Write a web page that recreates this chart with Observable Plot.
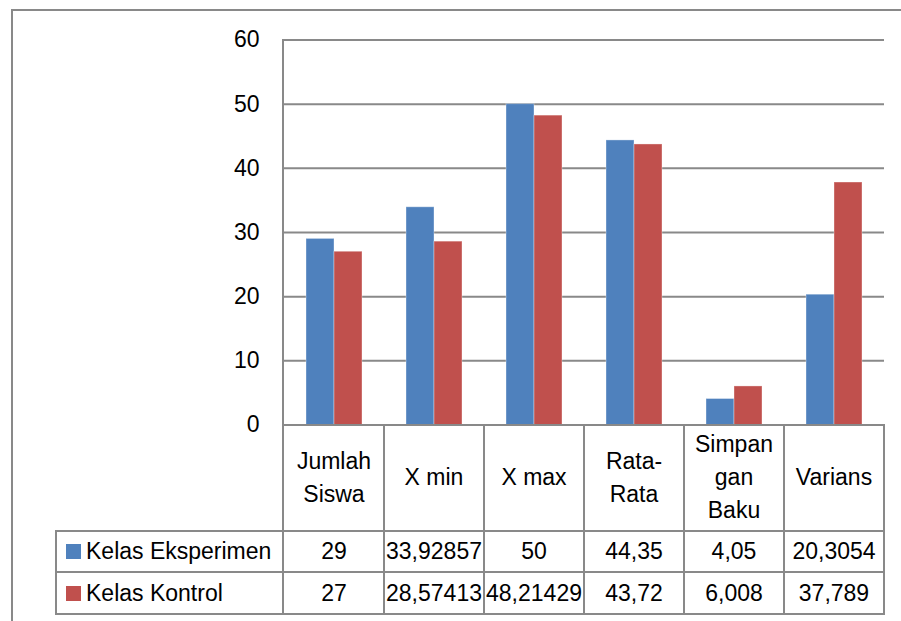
<!DOCTYPE html>
<html>
<head>
<meta charset="utf-8">
<script src="https://cdn.jsdelivr.net/npm/d3@7"></script>
<script src="https://cdn.jsdelivr.net/npm/@observablehq/plot@0.6"></script>
<style>
  html, body { margin: 0; padding: 0; background: #fff; }
  #wrap { position: relative; width: 901px; height: 621px; overflow: hidden; background: #fff;
          font-family: "Liberation Sans", Arial, sans-serif; color: #000; }
  #wrap svg { position: absolute; left: 0; top: 0; }
  .ln { position: absolute; background: #898989; }
  .cell { position: absolute; display: flex; align-items: center; justify-content: center;
          font-size: 23px; white-space: pre; text-align: center; line-height: 33px; }
  .leg { position: absolute; display: flex; align-items: center; font-size: 23px; white-space: pre; }
  .sw { display: inline-block; flex-shrink: 0; width: 15px; height: 15px; margin-right: 5px; }
</style>
</head>
<body>
<div id="wrap"></div>
<script>
// ---- data ----
const categories = ["Jumlah Siswa", "X min", "X max", "Rata-Rata", "Simpangan Baku", "Varians"];
const headerLabels = ["Jumlah\nSiswa", "X min", "X max", "Rata-\nRata", "Simpan\ngan\nBaku", "Varians"];
const seriesNames = ["Kelas Eksperimen", "Kelas Kontrol"];
const eksperimen = [29, 33.92857, 50, 44.35, 4.05, 20.3054];
const kontrol = [27, 28.57413, 48.21429, 43.72, 6.008, 37.789];
const yTicks = [0, 10, 20, 30, 40, 50, 60];
const seriesColors = ["#4F81BD", "#C0504D"];

const seriesValues = [eksperimen, kontrol];
const data = categories.flatMap((c, i) =>
  seriesNames.map((s, j) => ({ cat: c, series: s, value: seriesValues[j][i] })));

const FONT = '"Liberation Sans", Arial, sans-serif';
const W = 901, H = 427;
const mL = 283, mR = 16, mT = 39.5, mB = 2.5;

const chart = Plot.plot({
  width: W, height: H,
  marginLeft: mL, marginRight: mR, marginTop: mT, marginBottom: mB,
  style: { fontFamily: FONT, fontSize: "23px", color: "#000", background: "transparent", overflow: "visible" },
  fx: { domain: categories, padding: 0, axis: null, label: null },
  x: { domain: seriesNames, paddingInner: 0, paddingOuter: 0.75, axis: null, label: null },
  y: { domain: [0, 60], label: null },
  color: { domain: seriesNames, range: seriesColors },
  marks: [
    Plot.ruleY(yTicks.slice(1), { stroke: "#898989", strokeWidth: 2 }),
    Plot.barY(data, { fx: "cat", x: "series", y: "value", fill: "series", stroke: "#ffffff", strokeOpacity: 0.35, strokeWidth: 1 }),
    Plot.axisY(yTicks, { tickSize: 0, tickPadding: 25, fontSize: 23, fill: "#000", label: null })
  ]
});

const wrap = document.getElementById("wrap");
wrap.appendChild(chart);

// ---- data table (built from the same arrays, aligned to the fx scale) ----
const fxs = chart.scale("fx");
const bw = fxs.bandwidth || ((W - mL - mR) / categories.length);
const colStarts = categories.map((c, i) => (fxs.apply ? fxs.apply(c) : mL + i * bw));
const colRight = colStarts[colStarts.length - 1] + bw;
const y0 = chart.scale("y").apply(0);
const tableLeft = 56;
const rows = [y0, 531, 572, 614];

function line(x, y, w, h) {
  const d = document.createElement("div");
  d.className = "ln";
  d.style.left = x + "px"; d.style.top = y + "px";
  d.style.width = w + "px"; d.style.height = h + "px";
  wrap.appendChild(d);
}
function cell(x, y, w, h, txt, cls) {
  const d = document.createElement("div");
  d.className = cls || "cell";
  d.style.left = x + "px"; d.style.top = y + "px";
  d.style.width = w + "px"; d.style.height = h + "px";
  d.textContent = txt;
  wrap.appendChild(d);
  return d;
}
const fmt = v => String(v).replace(".", ",");

// header labels
categories.forEach((c, i) => cell(colStarts[i], rows[0], bw, rows[1] - rows[0], headerLabels[i]));
// value rows
seriesNames.forEach((s, j) => {
  const top = rows[j + 1], h = rows[j + 2] - rows[j + 1];
  categories.forEach((c, i) => cell(colStarts[i], top, bw, h, fmt(seriesValues[j][i])));
  const lg = cell(tableLeft + 10, top, mL - tableLeft - 10, h, "", "leg");
  const sw = document.createElement("span");
  sw.className = "sw"; sw.style.background = seriesColors[j];
  lg.appendChild(sw);
  lg.appendChild(document.createTextNode(s));
});

// outer chart frame
line(11, 9, 1000, 2);
line(11, 9, 2, 1000);
// y axis line
line(mL - 1, mT - 1, 2, rows[3] - mT + 2);
// x axis / header top
line(mL - 1, y0 - 1, colRight - mL + 2, 2);
// row lines
rows.slice(1).forEach(y => line(tableLeft - 1, y - 1, colRight - tableLeft + 2, 2));
// left table border
line(tableLeft - 1, rows[1] - 1, 2, rows[3] - rows[1] + 2);
// column boundaries
colStarts.slice(1).concat([colRight]).forEach(x => line(x - 1, y0 - 1, 2, rows[3] - y0 + 2));
</script>
</body>
</html>
